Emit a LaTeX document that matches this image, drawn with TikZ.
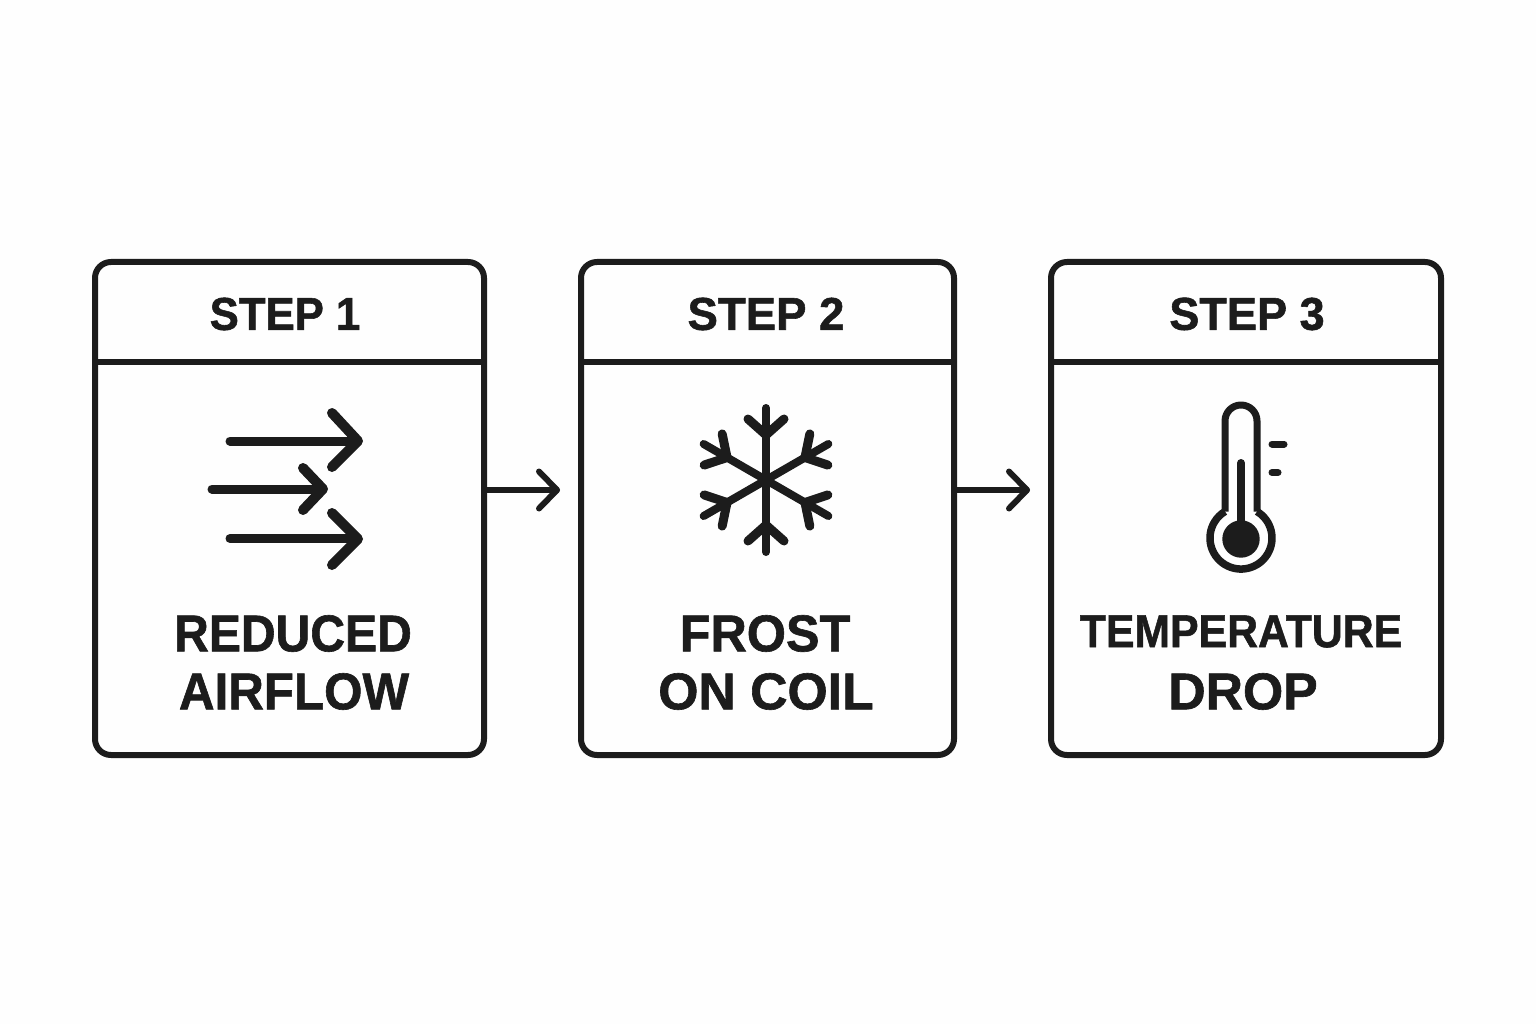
\documentclass[tikz,border=0pt]{standalone}
\usepackage{fontspec}
\setmainfont{Liberation Sans}[BoldFeatures={FakeBold=1.2}]
\usetikzlibrary{arrows.meta}
\definecolor{ink}{HTML}{1C1C1C}
\definecolor{paper}{HTML}{FEFEFE}
\newcommand{\sx}[2]{\scalebox{#1}[1]{#2}}
\tikzset{
  card/.style={draw=ink,line width=6pt,rounded corners=16pt,minimum height=493pt,inner sep=0pt,anchor=north west},
  divider/.style={draw=ink,line width=6pt},
  flow/.style={draw=ink,line width=5.5pt,line cap=round},
  flowtip/.style={draw=ink,line width=6pt,line cap=round,line join=round},
  iconline/.style={draw=ink,line width=9pt,line cap=round,line join=round},
  iconhead/.style={draw=ink,line width=10pt,line cap=round,line join=round},
  headtext/.style={text=ink,font=\fontsize{46}{46}\selectfont\bfseries,inner sep=0pt,anchor=center},
  captext/.style={text=ink,font=\fontsize{51.7}{52}\selectfont\bfseries,inner sep=0pt,anchor=center},
  captextsmall/.style={text=ink,font=\fontsize{46}{46}\selectfont\bfseries,inner sep=0pt,anchor=center},
}
\begin{document}
\begin{tikzpicture}[x=1pt,y=-1pt]
\useasboundingbox[fill=paper] (0,0) rectangle (1536,1024);
% cards
\node[card,minimum width=389pt] (card1) at (92,259) {};
\node[card,minimum width=373pt] (card2) at (578,259) {};
\node[card,minimum width=390pt] (card3) at (1048,259) {};
% header dividers
\foreach \c in {card1,card2,card3}{
  \coordinate (\c-l) at ([yshift=-103pt]\c.north west);
  \coordinate (\c-r) at ([yshift=-103pt]\c.north east);
  \draw[divider] (\c-l) -- (\c-r);
}
% headings
\node[headtext] (s1) at (285,314) {\sx{0.95}{STEP 1}};
\node[headtext] (s2) at (766,314) {\sx{0.99}{STEP 2}};
\node[headtext] (s3) at (1247,314) {\sx{0.98}{STEP 3}};
% captions
\node[captext] (c1a) at (293,633.5) {\sx{0.93}{REDUCED}};
\node[captext] (c1b) at (294,691.5) {\sx{0.954}{AIRFLOW}};
\node[captext] (c2a) at (765,633.5) {\sx{0.974}{FROST}};
\node[captext] (c2b) at (766,691.5) {ON COIL};
\node[captextsmall] (c3a) at (1241,631.5) {\sx{0.93}{TEMPERATURE}};
\node[captext] (c3b) at (1243,691.5) {DROP};
% connectors
\coordinate (t1) at (557,490);
\coordinate (t2) at (1027,490);
\draw[flow] (card1.east |- t1) -- (t1);
\draw[flow] (card2.east |- t2) -- (t2);
\draw[flowtip] ([shift={(-18,-18.5)}]t1) -- (t1) -- ([shift={(-18,18.5)}]t1);
\draw[flowtip] ([shift={(-18,-18.5)}]t2) -- (t2) -- ([shift={(-18,18.5)}]t2);
% airflow icon
\draw[iconline] (230,441) -- (356,441);
\draw[iconhead] (332,413) -- (358,441) -- (332,467);
\draw[iconline] (212,489) -- (320,489);
\draw[iconhead] (303,468) -- (323,489) -- (303,510);
\draw[iconline] (230,538.5) -- (356,538.5);
\draw[iconhead] (332,513) -- (358,539) -- (332,565);
% snowflake
\begin{scope}[shift={(766,480)}]
\foreach \a in {0,60,...,300}{
  \begin{scope}[rotate=\a]
    \draw[draw=ink,line width=8pt,line cap=round] (0,0) -- (0,-72);
    \draw[iconline] (-18,-61) -- (0,-45) -- (18,-61);
  \end{scope}
}
\end{scope}
% thermometer
\draw[draw=ink,line width=7pt,line join=round]
  (1225,511.5) -- (1225,421) arc[start angle=180,end angle=0,radius=16pt]
  -- (1257,511.5);
\draw[draw=ink,line width=7.5pt]
  (1257,511.5) arc[start angle=58.9,end angle=-238.9,radius=31pt];
\fill[ink] (1241,539) circle[radius=18.7pt];
\draw[draw=ink,line width=8pt,line cap=round] (1241,463) -- (1241,530);
\draw[draw=ink,line width=7pt,line cap=round] (1272,444) -- (1284,444);
\draw[draw=ink,line width=7pt,line cap=round] (1272,472.5) -- (1278,472.5);
\end{tikzpicture}
\end{document}
